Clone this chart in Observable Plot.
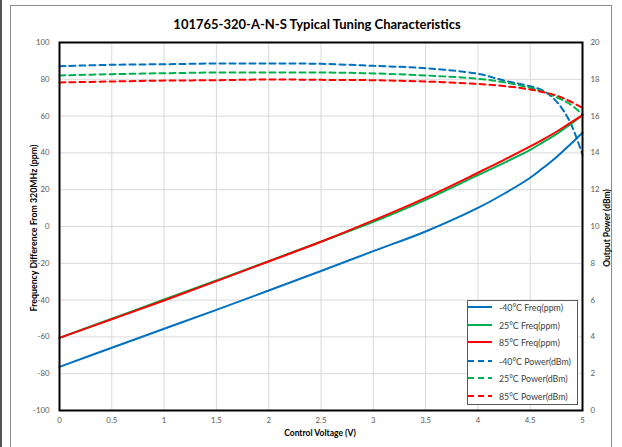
<!DOCTYPE html>
<html><head><meta charset="utf-8">
<script src="https://cdn.jsdelivr.net/npm/d3@7"></script>
<script src="https://cdn.jsdelivr.net/npm/@observablehq/plot@0.6"></script>
<style>
body{margin:0;background:#fff;font-family:Lato,"Liberation Sans",sans-serif;}
#wrap{position:relative;width:622px;height:447px;overflow:hidden;background:#fff;}
#wrap svg{position:absolute;left:0;top:0;}
#outer{position:absolute;left:10px;top:5px;width:602px;height:460px;border:1px solid #8c8c8c;box-sizing:border-box;}
#edge{position:absolute;left:0;top:0;width:2px;height:447px;background:#555;}
.ov{position:absolute;white-space:nowrap;color:#000;}
#title{left:0;width:634px;top:16px;text-align:center;font-weight:bold;font-size:13px;}
#xlabel{left:0;width:640px;top:428px;text-align:center;font-weight:bold;font-size:8.5px;}
#ylabel{left:33px;top:228px;transform:translate(-50%,-50%) rotate(-90deg);font-weight:bold;font-size:8.8px;}
#y2label{left:607px;top:228px;transform:translate(-50%,-50%) rotate(-90deg);font-weight:bold;font-size:8.5px;}
#legend{position:absolute;left:467px;top:300px;width:111px;height:105px;border:1px solid #595959;background:#fff;box-sizing:border-box;}
.lr{position:absolute;left:0;height:12px;width:110px;}
.lr svg{position:absolute;left:5px;top:1px;}
.lr span{position:absolute;left:31px;top:0;font-size:8.8px;color:#404040;line-height:12px;}
</style></head>
<body>
<div id="wrap">
  <div id="edge"></div>
  <div id="outer"></div>
  <div id="chart"></div>
  <div id="title" class="ov">101765-320-A-N-S Typical Tuning Characteristics</div>
  <div id="xlabel" class="ov">Control Voltage (V)</div>
  <div id="ylabel" class="ov">Frequency Difference From 320MHz (ppm)</div>
  <div id="y2label" class="ov">Output Power (dBm)</div>
  <div id="legend"></div>
</div>
<script>
const voltage   = [0, 0.5, 1, 1.5, 2, 2.5, 3, 3.5, 4, 4.25, 4.5, 4.625, 4.75, 4.875, 5];
const freqM40   = [-76.3, -65.9, -55.6, -45.3, -34.8, -24.2, -13.4, -2.7, 10.1, 17.8, 26.5, 31.9, 37.7, 44.2, 51.0];
const freq25    = [-60.5, -50.1, -39.7, -29.3, -18.8, -8.3, 2.5, 14.5, 27.9, 34.6, 41.7, 45.9, 50.2, 55.2, 60.5];
const freq85    = [-60.5, -50.4, -40.2, -29.7, -19.0, -8.3, 3.3, 15.6, 29.2, 36.2, 43.5, 47.4, 51.5, 56.0, 60.5];
const powerM40  = [18.71, 18.79, 18.82, 18.86, 18.86, 18.84, 18.73, 18.60, 18.30, 17.93, 17.62, 17.38, 16.80, 15.75, 13.90];
const power25   = [18.21, 18.28, 18.33, 18.37, 18.37, 18.37, 18.32, 18.21, 18.03, 17.84, 17.54, 17.32, 17.03, 16.67, 16.09];
const power85   = [17.83, 17.88, 17.93, 17.95, 17.99, 17.97, 17.95, 17.88, 17.75, 17.63, 17.45, 17.30, 17.12, 16.82, 16.45];
const seriesNames = ["-40°C Freq(ppm)", "25°C Freq(ppm)", "85°C Freq(ppm)", "-40°C Power(dBm)", "25°C Power(dBm)", "85°C Power(dBm)"];
const seriesColors = ["#0070C0", "#00B050", "#FF0000", "#0070C0", "#00B050", "#FF0000"];
const xTicks = [0, 0.5, 1, 1.5, 2, 2.5, 3, 3.5, 4, 4.5, 5];
const yTicks = [-100, -80, -60, -40, -20, 0, 20, 40, 60, 80, 100];
const y2Ticks = [0, 2, 4, 6, 8, 10, 12, 14, 16, 18, 20];

const freqSeries = [freqM40, freq25, freq85];
const powerSeries = [powerM40, power25, power85];
const toLeft = p => p * 10 - 100; // power (0..20) onto the left scale (-100..100)

const freqRows = freqSeries.flatMap((vals, k) => vals.map((v, i) => ({V: voltage[i], y: v, name: seriesNames[k]})));
const powerRows = powerSeries.flatMap((vals, k) => vals.map((v, i) => ({V: voltage[i], y: toLeft(v), name: seriesNames[k + 3]})));

const chart = Plot.plot({
  width: 622, height: 447,
  marginLeft: 59, marginRight: 40, marginTop: 42, marginBottom: 37,
  style: {fontFamily: "Lato, 'Liberation Sans', sans-serif", fontSize: "7.8px", color: "#595959", background: "transparent"},
  x: {domain: [0, 5]},
  y: {domain: [-100, 100]},
  color: {domain: seriesNames, range: seriesColors},
  marks: [
    Plot.gridX(xTicks, {stroke: "#d9d9d9", strokeOpacity: 1, strokeWidth: 1}),
    Plot.gridY(yTicks, {stroke: "#d9d9d9", strokeOpacity: 1, strokeWidth: 1}),
    Plot.axisX(xTicks, {tickSize: 0, tickPadding: 7, label: null, tickFormat: d => String(d)}),
    Plot.axisY(yTicks, {anchor: "left", tickSize: 0, tickPadding: 10, label: null, tickFormat: d => String(d)}),
    Plot.axisY(y2Ticks.map(toLeft), {anchor: "right", tickSize: 0, tickPadding: 8, label: null, tickFormat: d => String(Math.round((d + 100) / 10))}),
    Plot.line(powerRows, {x: "V", y: "y", z: "name", stroke: "name", strokeWidth: 2, strokeDasharray: "6,4", curve: "catmull-rom"}),
    Plot.line(freqRows, {x: "V", y: "y", z: "name", stroke: "name", strokeWidth: 2, curve: "catmull-rom"}),
    Plot.frame({stroke: "#000", strokeWidth: 2})
  ]
});
document.getElementById("chart").appendChild(chart);

// legend
const lg = document.getElementById("legend");
const rowTops = [1, 18.5, 36, 54.5, 72, 89.5];
seriesNames.forEach((n, i) => {
  const r = document.createElement("div");
  r.className = "lr";
  r.style.top = rowTops[i] + "px";
  const dash = i >= 3 ? ' stroke-dasharray="6,4"' : '';
  r.innerHTML = `<svg width="26" height="10"><line x1="0" x2="24" y1="5" y2="5" stroke="${seriesColors[i]}" stroke-width="2"${dash}/></svg><span>${n}</span>`;
  lg.appendChild(r);
});
</script>
</body></html>
